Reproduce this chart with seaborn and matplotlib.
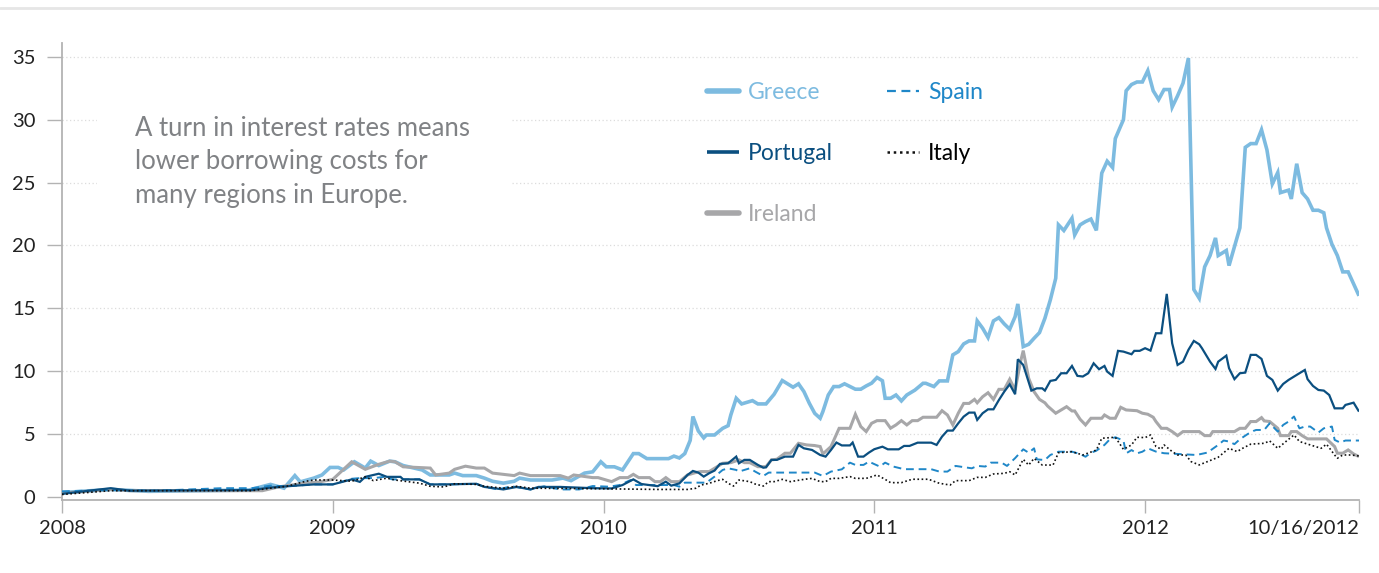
import numpy as np
import pandas as pd
import matplotlib
matplotlib.use("Agg")
import matplotlib.pyplot as plt
from matplotlib.lines import Line2D
from matplotlib.patches import Rectangle
import seaborn as sns

# ---------------- data (time in decimal years, yield in %) ----------------
greece_t = [2008.00, 2008.18, 2008.32, 2008.51, 2008.69, 2008.77, 2008.82, 2008.86, 2008.88, 2008.93,
            2008.96, 2008.99, 2009.02, 2009.04, 2009.08, 2009.12, 2009.14, 2009.17, 2009.21, 2009.23,
            2009.26, 2009.33, 2009.36, 2009.43, 2009.45, 2009.48, 2009.53, 2009.56, 2009.59, 2009.63,
            2009.67, 2009.69, 2009.73, 2009.81, 2009.85, 2009.88, 2009.93, 2009.96, 2009.99, 2010.01,
            2010.04, 2010.07, 2010.11, 2010.13, 2010.16, 2010.24, 2010.26, 2010.28, 2010.30, 2010.32,
            2010.33, 2010.35, 2010.37, 2010.38, 2010.41, 2010.44, 2010.46, 2010.47, 2010.49, 2010.51,
            2010.55, 2010.57, 2010.60, 2010.63, 2010.66, 2010.68, 2010.70, 2010.72, 2010.74, 2010.76,
            2010.78, 2010.80, 2010.81, 2010.83, 2010.85, 2010.87, 2010.89, 2010.93, 2010.95, 2010.97,
            2010.99, 2011.01, 2011.03, 2011.04, 2011.06, 2011.08, 2011.10, 2011.12, 2011.15, 2011.18,
            2011.19, 2011.22, 2011.24, 2011.27, 2011.29, 2011.31, 2011.33, 2011.35, 2011.37, 2011.38,
            2011.40, 2011.42, 2011.44, 2011.46, 2011.48, 2011.50, 2011.52, 2011.53, 2011.55, 2011.57,
            2011.59, 2011.61, 2011.63, 2011.65, 2011.67, 2011.68, 2011.70, 2011.73, 2011.74, 2011.76,
            2011.78, 2011.80, 2011.82, 2011.84, 2011.86, 2011.88, 2011.89, 2011.92, 2011.93, 2011.95,
            2011.97, 2011.99, 2012.01, 2012.03, 2012.05, 2012.07, 2012.09, 2012.10, 2012.12, 2012.14,
            2012.16, 2012.18, 2012.20, 2012.22, 2012.24, 2012.26, 2012.27, 2012.30, 2012.31, 2012.33,
            2012.35, 2012.37, 2012.39, 2012.41, 2012.43, 2012.45, 2012.47, 2012.49, 2012.50, 2012.53,
            2012.54, 2012.56, 2012.58, 2012.60, 2012.62, 2012.64, 2012.66, 2012.67, 2012.69, 2012.71,
            2012.73, 2012.75, 2012.79]
greece_v = [0.35, 0.6, 0.45, 0.5, 0.55, 1.0, 0.7, 1.7, 1.2, 1.5,
            1.75, 2.35, 2.35, 2.15, 2.8, 2.3, 2.85, 2.5, 2.85, 2.8,
            2.5, 2.15, 1.75, 1.75, 1.9, 1.7, 1.7, 1.5, 1.25, 1.1,
            1.25, 1.5, 1.35, 1.35, 1.5, 1.3, 1.9, 2.0, 2.8, 2.4,
            2.4, 2.15, 3.45, 3.45, 3.05, 3.05, 3.25, 3.1, 3.45, 4.5,
            6.4, 5.25, 4.7, 4.93, 4.93, 5.46, 5.67, 6.52, 7.85, 7.4,
            7.66, 7.4, 7.4, 8.17, 9.26, 9.0, 8.73, 9.0, 8.38, 7.45,
            6.65, 6.26, 6.79, 8.11, 8.78, 8.78, 9.0, 8.57, 8.57, 8.83,
            9.05, 9.5, 9.24, 7.85, 7.85, 8.11, 7.64, 8.11, 8.5, 9.04,
            9.04, 8.78, 9.23, 9.23, 11.3, 11.56, 12.17, 12.41, 12.41, 14.0,
            13.42, 12.68, 14.0, 14.26, 13.76, 13.34, 14.34, 15.35, 11.96, 12.14,
            12.62, 13.07, 14.21, 15.67, 17.39, 21.64, 21.19, 22.17, 20.84, 21.64,
            21.9, 22.1, 21.2, 25.75, 26.7, 26.2, 28.5, 30.0, 32.3, 32.8,
            33.0, 33.0, 33.9, 32.3, 31.6, 32.4, 32.4, 31.0, 31.9, 32.9,
            34.9, 16.5, 15.8, 18.3, 19.2, 20.6, 19.2, 19.6, 18.4, 19.9,
            21.4, 27.8, 28.1, 28.1, 29.2, 27.6, 24.9, 25.8, 24.2, 24.4,
            23.7, 26.5, 24.2, 23.7, 22.8, 22.8, 22.6, 21.4, 20.1, 19.2,
            17.9, 17.9, 16.0]

portugal_t = [2008.00, 2008.18, 2008.25, 2008.70, 2008.77, 2008.83, 2008.93, 2009.00, 2009.07, 2009.10,
              2009.12, 2009.17, 2009.20, 2009.25, 2009.26, 2009.32, 2009.36, 2009.41, 2009.53, 2009.56,
              2009.63, 2009.68, 2009.73, 2009.76, 2009.84, 2009.96, 2010.03, 2010.07, 2010.11, 2010.14,
              2010.20, 2010.23, 2010.25, 2010.28, 2010.31, 2010.33, 2010.35, 2010.37, 2010.39, 2010.41,
              2010.43, 2010.46, 2010.49, 2010.50, 2010.52, 2010.54, 2010.57, 2010.59, 2010.60, 2010.62,
              2010.64, 2010.67, 2010.70, 2010.72, 2010.74, 2010.77, 2010.80, 2010.82, 2010.84, 2010.86,
              2010.88, 2010.91, 2010.92, 2010.94, 2010.96, 2010.98, 2011.00, 2011.03, 2011.05, 2011.09,
              2011.11, 2011.13, 2011.16, 2011.21, 2011.23, 2011.25, 2011.27, 2011.29, 2011.31, 2011.33,
              2011.35, 2011.37, 2011.38, 2011.40, 2011.42, 2011.44, 2011.46, 2011.48, 2011.50, 2011.52,
              2011.53, 2011.55, 2011.58, 2011.60, 2011.62, 2011.63, 2011.65, 2011.67, 2011.69, 2011.71,
              2011.73, 2011.75, 2011.77, 2011.79, 2011.81, 2011.83, 2011.85, 2011.86, 2011.88, 2011.90,
              2011.92, 2011.95, 2011.96, 2011.98, 2012.00, 2012.02, 2012.04, 2012.06, 2012.08, 2012.10,
              2012.12, 2012.14, 2012.16, 2012.18, 2012.20, 2012.21, 2012.24, 2012.26, 2012.27, 2012.30,
              2012.31, 2012.33, 2012.35, 2012.37, 2012.39, 2012.41, 2012.43, 2012.45, 2012.47, 2012.49,
              2012.51, 2012.53, 2012.55, 2012.57, 2012.59, 2012.60, 2012.62, 2012.64, 2012.66, 2012.68,
              2012.70, 2012.73, 2012.74, 2012.77, 2012.79]
portugal_v = [0.25, 0.7, 0.5, 0.55, 0.75, 0.85, 1.0, 1.0, 1.4, 1.2,
              1.6, 1.85, 1.6, 1.6, 1.4, 1.4, 1.0, 1.0, 1.05, 0.8,
              0.6, 0.8, 0.6, 0.8, 0.8, 0.7, 0.68, 0.95, 1.4, 1.03,
              0.86, 1.22, 0.9, 1.08, 1.75, 2.07, 1.94, 1.62, 1.89, 2.1,
              2.63, 2.68, 3.21, 2.68, 2.95, 2.95, 2.55, 2.33, 2.36, 2.95,
              2.95, 3.21, 3.21, 4.14, 3.87, 3.74, 3.34, 3.21, 3.74, 4.33,
              4.1, 4.1, 4.33, 3.21, 3.21, 3.53, 3.8, 4.0, 3.79, 3.79,
              4.06, 4.06, 4.32, 4.32, 4.14, 4.8, 5.28, 5.28, 5.86, 6.39,
              6.71, 6.71, 6.13, 6.66, 6.97, 6.97, 7.71, 8.38, 8.96, 8.17,
              10.95, 10.5, 8.46, 8.64, 8.64, 8.46, 9.23, 9.31, 9.84, 9.84,
              10.42, 9.63, 9.58, 9.84, 10.63, 10.16, 10.42, 9.97, 9.63, 11.62,
              11.56, 11.35, 11.62, 11.62, 11.83, 11.64, 13.02, 13.02, 16.15, 12.22,
              10.5, 10.76, 11.7, 12.41, 12.14, 11.83, 10.76, 10.18, 10.76, 11.24,
              10.24, 9.37, 9.84, 9.89, 11.3, 11.3, 10.98, 9.63, 9.31, 8.46,
              8.99, 9.31, 9.58, 9.84, 10.1, 9.37, 8.83, 8.51, 8.46, 8.11,
              7.05, 7.05, 7.32, 7.5, 6.79]

ireland_t = [2008.00, 2008.18, 2008.25, 2008.74, 2008.80, 2008.88, 2008.95, 2009.00, 2009.07, 2009.12,
             2009.17, 2009.21, 2009.23, 2009.26, 2009.36, 2009.38, 2009.43, 2009.45, 2009.49, 2009.53,
             2009.56, 2009.59, 2009.67, 2009.69, 2009.73, 2009.84, 2009.87, 2009.89, 2009.96, 2009.98,
             2010.01, 2010.03, 2010.06, 2010.09, 2010.11, 2010.13, 2010.17, 2010.19, 2010.21, 2010.23,
             2010.25, 2010.28, 2010.31, 2010.34, 2010.36, 2010.39, 2010.41, 2010.44, 2010.47, 2010.50,
             2010.52, 2010.54, 2010.57, 2010.60, 2010.62, 2010.64, 2010.67, 2010.69, 2010.72, 2010.75,
             2010.78, 2010.80, 2010.81, 2010.84, 2010.87, 2010.89, 2010.91, 2010.93, 2010.95, 2010.97,
             2010.99, 2011.01, 2011.04, 2011.06, 2011.08, 2011.10, 2011.12, 2011.14, 2011.16, 2011.18,
             2011.23, 2011.25, 2011.27, 2011.29, 2011.31, 2011.33, 2011.35, 2011.37, 2011.38, 2011.40,
             2011.42, 2011.44, 2011.46, 2011.48, 2011.50, 2011.52, 2011.54, 2011.55, 2011.57, 2011.59,
             2011.61, 2011.63, 2011.64, 2011.67, 2011.69, 2011.71, 2011.73, 2011.74, 2011.76, 2011.78,
             2011.80, 2011.84, 2011.85, 2011.87, 2011.89, 2011.91, 2011.93, 2011.97, 2011.99, 2012.01,
             2012.03, 2012.04, 2012.06, 2012.08, 2012.10, 2012.12, 2012.14, 2012.20, 2012.22, 2012.24,
             2012.25, 2012.33, 2012.35, 2012.37, 2012.39, 2012.41, 2012.43, 2012.44, 2012.46, 2012.49,
             2012.50, 2012.53, 2012.54, 2012.56, 2012.58, 2012.60, 2012.67, 2012.70, 2012.71, 2012.73,
             2012.75, 2012.77, 2012.79]
ireland_v = [0.3, 0.6, 0.5, 0.5, 0.8, 1.05, 1.2, 1.4, 2.8, 2.2,
             2.6, 2.85, 2.8, 2.4, 2.3, 1.75, 1.9, 2.2, 2.45, 2.3,
             2.3, 1.9, 1.7, 1.9, 1.7, 1.7, 1.5, 1.75, 1.54, 1.54,
             1.35, 1.22, 1.54, 1.54, 1.8, 1.54, 1.54, 1.22, 1.22, 1.54,
             1.22, 1.22, 1.75, 1.94, 2.02, 2.02, 2.28, 2.68, 2.73, 2.95,
             2.73, 2.73, 2.41, 2.41, 2.95, 3.0, 3.48, 3.48, 4.27, 4.14,
             4.09, 4.01, 3.42, 4.01, 5.46, 5.46, 5.46, 6.58, 5.6, 5.2,
             5.86, 6.07, 6.07, 5.47, 5.73, 6.07, 5.73, 6.07, 6.07, 6.34,
             6.34, 6.86, 6.52, 5.73, 6.66, 7.44, 7.44, 7.76, 7.49, 7.97,
             8.29, 7.76, 8.56, 8.56, 9.36, 8.5, 10.76, 11.64, 9.44, 8.37,
             7.76, 7.49, 7.23, 6.66, 6.92, 7.18, 6.84, 6.84, 6.18, 5.73,
             6.26, 6.26, 6.52, 6.26, 6.26, 7.13, 6.92, 6.86, 6.66, 6.58,
             6.34, 6.0, 5.46, 5.46, 5.2, 4.88, 5.2, 5.2, 4.88, 4.88,
             5.2, 5.2, 5.46, 5.46, 6.0, 6.0, 6.31, 6.05, 6.0, 5.46,
             4.88, 4.88, 5.2, 5.2, 4.88, 4.62, 4.62, 4.01, 3.48, 3.48,
             3.74, 3.42, 3.21]

spain_t = [2008.00, 2008.18, 2008.35, 2008.59, 2008.70, 2008.77, 2008.83, 2008.93, 2009.00, 2009.07,
           2009.10, 2009.15, 2009.19, 2009.22, 2009.32, 2009.36, 2009.43, 2009.53, 2009.56, 2009.61,
           2009.66, 2009.73, 2009.78, 2009.84, 2009.91, 2009.96, 2010.02, 2010.06, 2010.10, 2010.12,
           2010.26, 2010.28, 2010.30, 2010.38, 2010.41, 2010.44, 2010.46, 2010.49, 2010.50, 2010.54,
           2010.56, 2010.59, 2010.61, 2010.65, 2010.78, 2010.81, 2010.84, 2010.88, 2010.91, 2010.93,
           2010.96, 2010.98, 2011.02, 2011.04, 2011.07, 2011.11, 2011.21, 2011.24, 2011.27, 2011.30,
           2011.36, 2011.38, 2011.41, 2011.43, 2011.47, 2011.49, 2011.52, 2011.55, 2011.57, 2011.59,
           2011.60, 2011.63, 2011.65, 2011.68, 2011.73, 2011.76, 2011.78, 2011.80, 2011.82, 2011.85,
           2011.87, 2011.89, 2011.92, 2011.93, 2011.95, 2011.97, 2011.99, 2012.01, 2012.04, 2012.07,
           2012.19, 2012.23, 2012.27, 2012.29, 2012.31, 2012.33, 2012.35, 2012.38, 2012.40, 2012.41,
           2012.44, 2012.46, 2012.49, 2012.51, 2012.53, 2012.55, 2012.57, 2012.59, 2012.61, 2012.64,
           2012.66, 2012.69, 2012.70, 2012.72, 2012.74, 2012.79]
spain_v = [0.45, 0.55, 0.5, 0.7, 0.7, 0.9, 0.85, 1.0, 1.0, 1.45,
           1.5, 1.5, 1.6, 1.4, 1.4, 1.0, 1.0, 1.05, 0.8, 0.6,
           0.85, 0.6, 0.85, 0.6, 0.6, 0.87, 0.82, 0.95, 1.35, 0.95,
           0.95, 0.82, 1.14, 1.14, 1.62, 2.15, 2.28, 2.15, 2.02, 2.28,
           2.02, 1.67, 1.94, 1.94, 1.94, 1.67, 2.02, 2.2, 2.73, 2.55,
           2.55, 2.81, 2.42, 2.73, 2.42, 2.21, 2.21, 2.02, 2.02, 2.47,
           2.28, 2.47, 2.42, 2.73, 2.73, 2.47, 3.09, 3.79, 3.52, 3.87,
           2.99, 2.94, 3.34, 3.6, 3.6, 3.42, 3.2, 3.52, 3.68, 4.14,
           4.59, 4.75, 4.49, 3.47, 3.73, 3.47, 3.6, 3.87, 3.61, 3.48,
           3.34, 3.53, 4.14, 4.49, 4.41, 4.2, 4.59, 5.02, 5.25, 5.33,
           5.33, 5.86, 5.2, 5.73, 6.0, 6.4, 5.46, 5.6, 5.6, 5.12,
           5.46, 5.6, 4.54, 4.33, 4.49, 4.49]

italy_t = [2008.00, 2008.18, 2008.40, 2008.70, 2008.77, 2008.83, 2008.90, 2008.93, 2009.00, 2009.07,
           2009.12, 2009.15, 2009.20, 2009.23, 2009.32, 2009.36, 2009.41, 2009.45, 2009.53, 2009.56,
           2009.63, 2009.68, 2009.73, 2010.01, 2010.20, 2010.31, 2010.34, 2010.36, 2010.39, 2010.42,
           2010.44, 2010.46, 2010.48, 2010.50, 2010.54, 2010.56, 2010.59, 2010.61, 2010.63, 2010.66,
           2010.69, 2010.74, 2010.77, 2010.80, 2010.82, 2010.84, 2010.87, 2010.91, 2010.93, 2010.97,
           2011.01, 2011.04, 2011.06, 2011.10, 2011.14, 2011.20, 2011.24, 2011.28, 2011.30, 2011.35,
           2011.38, 2011.41, 2011.44, 2011.48, 2011.50, 2011.52, 2011.55, 2011.57, 2011.59, 2011.62,
           2011.66, 2011.68, 2011.73, 2011.77, 2011.82, 2011.84, 2011.89, 2011.92, 2011.95, 2011.97,
           2012.00, 2012.02, 2012.04, 2012.06, 2012.07, 2012.10, 2012.12, 2012.15, 2012.17, 2012.20,
           2012.23, 2012.27, 2012.31, 2012.34, 2012.36, 2012.39, 2012.44, 2012.46, 2012.49, 2012.53,
           2012.55, 2012.57, 2012.61, 2012.65, 2012.67, 2012.70, 2012.71, 2012.73, 2012.76, 2012.79]
italy_v = [0.2, 0.5, 0.5, 0.5, 0.7, 0.85, 1.25, 1.35, 1.35, 1.25,
           1.6, 1.3, 1.5, 1.35, 1.1, 0.85, 0.8, 1.05, 1.0, 0.85,
           0.7, 0.85, 0.7, 0.65, 0.6, 0.6, 0.69, 0.95, 1.09, 1.3,
           1.4, 1.09, 0.87, 1.35, 1.22, 1.03, 0.87, 1.22, 1.22, 1.4,
           1.22, 1.4, 1.48, 1.22, 1.22, 1.48, 1.48, 1.62, 1.48, 1.48,
           1.75, 1.4, 1.14, 1.14, 1.41, 1.41, 1.09, 0.95, 1.3, 1.3,
           1.56, 1.56, 1.83, 1.88, 2.01, 1.75, 2.99, 2.54, 3.07, 2.54,
           2.54, 3.52, 3.6, 3.34, 3.73, 4.67, 4.75, 3.79, 4.14, 4.75,
           4.72, 4.93, 4.01, 3.8, 4.14, 3.61, 3.34, 3.34, 2.81, 2.55,
           2.81, 3.16, 3.87, 3.61, 3.87, 4.2, 4.27, 4.46, 3.87, 4.59,
           4.93, 4.41, 4.14, 3.87, 4.2, 3.34, 3.08, 3.34, 3.34, 3.26]

countries = ["Greece", "Portugal", "Ireland", "Spain", "Italy"]
x_ticks = [2008, 2009, 2010, 2011, 2012, 2012.79]
x_tick_labels = ["2008", "2009", "2010", "2011", "2012", "10/16/2012"]
y_ticks = [0, 5, 10, 15, 20, 25, 30, 35]
note = "A turn in interest rates means\nlower borrowing costs for\nmany regions in Europe."

series = {
    "Greece": (greece_t, greece_v),
    "Portugal": (portugal_t, portugal_v),
    "Ireland": (ireland_t, ireland_v),
    "Spain": (spain_t, spain_v),
    "Italy": (italy_t, italy_v),
}
df = pd.concat([pd.DataFrame({"country": c, "year": t, "yield": v}) for c, (t, v) in series.items()],
               ignore_index=True)

# ---------------- style ----------------
sns.set_theme(style="white")
plt.rcParams["font.family"] = ["Lato", "DejaVu Sans"]

styles = {
    "Greece":   dict(color="#7dbbe0", lw=2.6, ls="-", z=3),
    "Ireland":  dict(color="#a7a7a9", lw=2.2, ls="-", z=4),
    "Spain":    dict(color="#1f87c8", lw=1.4, ls=(0, (4, 2.5)), z=5),
    "Portugal": dict(color="#0b4f80", lw=1.6, ls="-", z=6),
    "Italy":    dict(color="#111111", lw=1.2, ls=(0, (1, 1.5)), z=7),
}

fig = plt.figure(figsize=(13.79, 5.73), dpi=100)
ax = fig.add_axes([62 / 1379, 1 - 499.5 / 573, 1297 / 1379, 456.5 / 573])

for c in ["Greece", "Ireland", "Spain", "Portugal", "Italy"]:
    s = styles[c]
    sub = df[df["country"] == c]
    sns.lineplot(data=sub, x="year", y="yield", ax=ax, color=s["color"], lw=s["lw"],
                 linestyle=s["ls"], zorder=s["z"], label=c, sort=False,
                 estimator=None, solid_capstyle="butt", solid_joinstyle="miter")

ax.set_xlim(2008, 2012.79)
ax.set_ylim(-0.2, 36.1)
ax.set_xlabel("")
ax.set_ylabel("")

# grid
for yv in y_ticks[1:]:
    ax.axhline(yv, color="#dcdcdc", lw=0.9, ls=(0, (1, 2)), zorder=0.5)

# white mask behind note
ax.add_patch(Rectangle((0.027, 0.60), 0.32, 0.34, transform=ax.transAxes,
                       facecolor="white", edgecolor="none", zorder=1))
ax.text(0.056, 0.84, note, transform=ax.transAxes, fontsize=18.5, color="#808285",
        va="top", ha="left", linespacing=1.42, zorder=2)

# spines / ticks
for side in ["top", "right"]:
    ax.spines[side].set_visible(False)
for side in ["left", "bottom"]:
    ax.spines[side].set_color("#b3b3b3")
    ax.spines[side].set_linewidth(1.3)

ax.set_yticks(y_ticks)
ax.set_yticklabels([str(v) for v in y_ticks])
ax.set_xticks(x_ticks)
ax.set_xticklabels(x_tick_labels)
ax.tick_params(axis="y", length=11, width=1.0, color="#b3b3b3", pad=8,
               labelsize=14.5, labelcolor="#222222", left=True)
ax.tick_params(axis="x", length=9, width=1.0, color="#b3b3b3", pad=6,
               labelsize=14.5, labelcolor="#222222", bottom=True)
xl = ax.get_xticklabels()
xl[-1].set_ha("right")

# legend
handles, labels = ax.get_legend_handles_labels()
order = [labels.index(c) for c in countries]
leg = ax.legend([handles[i] for i in order], [labels[i] for i in order],
                ncol=2, loc="upper left", bbox_to_anchor=(707 / 1379, 1 - 82 / 573),
                bbox_transform=fig.transFigure, frameon=False, fontsize=16.5,
                handlelength=1.4, handletextpad=0.4, labelspacing=1.75,
                columnspacing=2.35, borderpad=0, borderaxespad=0)
for txt, c in zip(leg.get_texts(), countries):
    txt.set_color(styles[c]["color"] if c != "Italy" else "#000000")
for lh, c in zip(leg.legend_handles, countries):
    if c in ("Greece", "Ireland"):
        lh.set_linewidth(4)
        lh.set_solid_capstyle("round")
    elif c == "Portugal":
        lh.set_linewidth(2.6)
    elif c == "Spain":
        lh.set_linewidth(1.6)
    else:
        lh.set_linewidth(1.8)

# top rule
fig.add_artist(Line2D([0, 1], [1 - 8 / 573, 1 - 8 / 573], transform=fig.transFigure,
                      color="#e6e6e6", lw=2))

fig.savefig("out.png", dpi=100)
